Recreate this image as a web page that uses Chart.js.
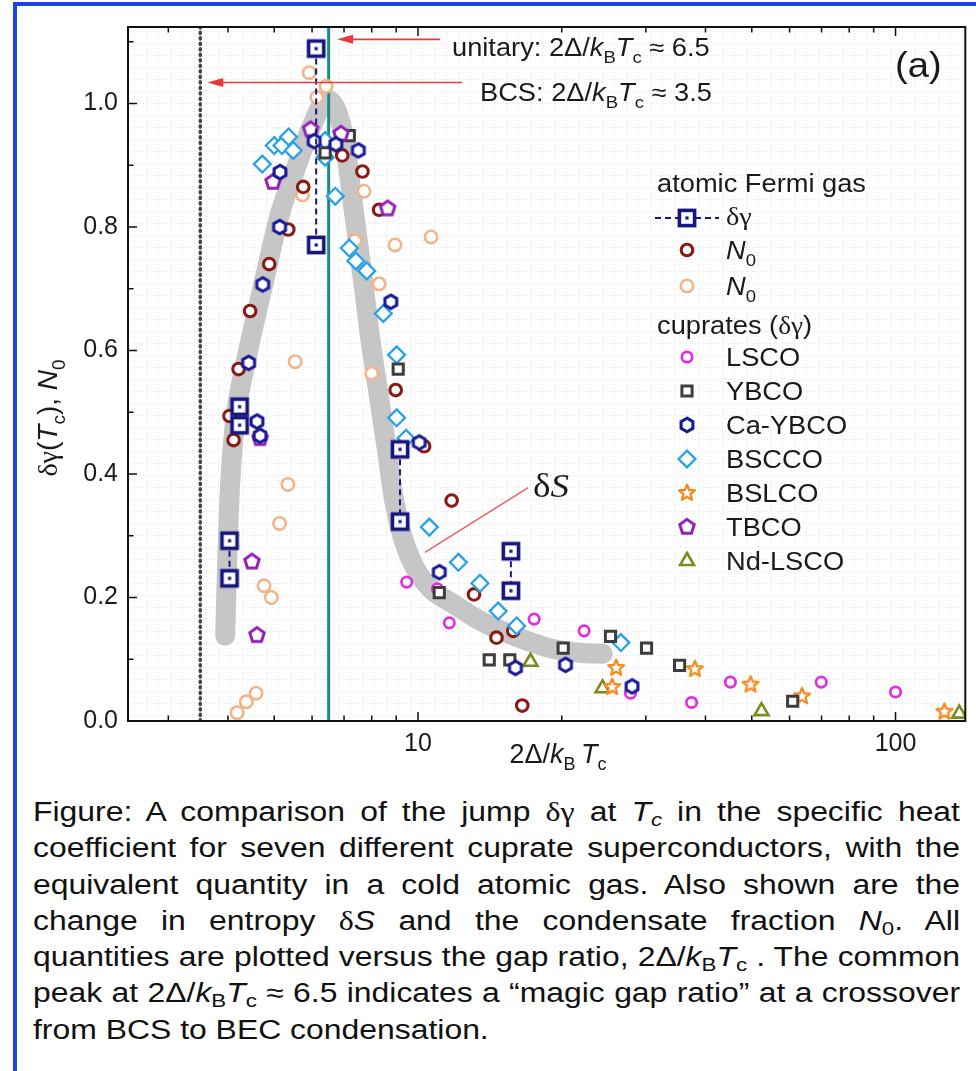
<!DOCTYPE html>
<html>
<head>
<meta charset="utf-8">
<script src="https://cdn.jsdelivr.net/npm/chart.js@4.4.0/dist/chart.umd.min.js"></script>
<style>
html,body{margin:0;padding:0;background:#fff;overflow:hidden}
#page{position:relative;width:976px;height:1071px;overflow:hidden;background:#fff}
#frame{position:absolute;left:13px;top:2px;width:1000px;height:1100px;border-left:4px solid #1a45e0;border-top:4px solid #1a45e0}
#c{position:absolute;left:0;top:0}
#cap{position:absolute;left:33px;top:794px;width:927px;font:27px "Liberation Sans",Arial,sans-serif;color:#111;line-height:36.3px;transform-origin:0 0}
#cap div{text-align:justify;text-align-last:justify;white-space:nowrap}
#cap div.last{text-align-last:left}
#cap.measure div{display:inline-block;text-align-last:left}
#cap.measure{width:auto}
sub{font-size:0.7em;line-height:0;vertical-align:-0.25em}
.g{font-family:"Liberation Serif",serif}
</style>
</head>
<body>
<div id="page">
  <div id="frame"></div>
  <canvas id="c" width="976" height="780"></canvas>
  <div id="cap">
    <div>Figure: A comparison of the jump <span class="g">δγ</span> at <i>T<sub>c</sub></i> in the specific heat</div>
    <div>coefficient for seven different cuprate superconductors, with the</div>
    <div>equivalent quantity in a cold atomic gas. Also shown are the</div>
    <div>change in entropy <span class="g">δ</span><i>S</i> and the condensate fraction <i>N</i><sub>0</sub>. All</div>
    <div>quantities are plotted versus the gap ratio, 2Δ/<i>k</i><sub>B</sub><i>T</i><sub>c</sub> . The common</div>
    <div>peak at 2Δ/<i>k</i><sub>B</sub><i>T</i><sub>c</sub> ≈ 6.5 indicates a “magic gap ratio” at a crossover</div>
    <div class="last">from BCS to BEC condensation.</div>
  </div>
</div>
<script>
// atomic Fermi gas, delta gamma (pairs joined by dashed line)
const dgX  = [6.12, 4.23, 4.03, 9.17, 15.65];
const dgHi = [1.089, 0.509, 0.292, 0.440, 0.275];
const dgLo = [0.771, 0.479, 0.231, 0.323, 0.211];

// atomic gas N0 (dark red)
const n0aX = [5.75, 6.94, 7.65, 8.29, 5.35, 4.88, 4.45, 4.21, 4.03, 4.11, 8.98, 10.3, 11.76, 13.1, 14.6, 15.83, 16.53];
const n0aY = [0.865, 0.916, 0.890, 0.828, 0.796, 0.740, 0.664, 0.570, 0.494, 0.455, 0.536, 0.445, 0.357, 0.205, 0.135, 0.146, 0.025];

// atomic gas N0 (light orange)
const n0bX = [5.92, 6.42, 6.14, 5.73, 7.71, 7.38, 8.95, 10.65, 8.29, 5.53, 8.0, 5.34, 5.13, 4.76, 4.93, 4.58, 4.37, 4.18];
const n0bY = [1.050, 1.028, 1.010, 0.852, 0.858, 0.778, 0.771, 0.784, 0.708, 0.582, 0.563, 0.383, 0.320, 0.219, 0.200, 0.045, 0.031, 0.0135];

// cuprates
const lscoX = [9.47, 10.98, 11.63, 17.51, 22.28, 27.86, 37.4, 45.1, 69.9, 100];
const lscoY = [0.225, 0.214, 0.159, 0.165, 0.146, 0.045, 0.030, 0.063, 0.063, 0.047];

const ybcoX = [7.18, 6.39, 9.09, 11.08, 14.1, 15.57, 20.14, 25.3, 30.1, 35.3, 60.9];
const ybcoY = [0.948, 0.920, 0.570, 0.208, 0.099, 0.099, 0.118, 0.137, 0.118, 0.090, 0.032];

const caX = [6.06, 6.73, 7.50, 5.14, 5.13, 4.73, 4.42, 4.60, 4.67, 8.77, 10.06, 11.08, 16.0, 20.37, 28.07];
const caY = [0.939, 0.934, 0.924, 0.889, 0.800, 0.707, 0.580, 0.485, 0.462, 0.679, 0.451, 0.241, 0.086, 0.091, 0.056];

const bsccoX = [4.72, 5.0, 5.19, 5.36, 5.48, 6.39, 6.39, 6.71, 7.18, 7.41, 7.81, 8.46, 9.02, 9.02, 9.44, 10.56, 12.15, 13.48, 14.72, 16.09, 26.6];
const bsccoY = [0.902, 0.932, 0.932, 0.946, 0.924, 0.913, 0.940, 0.850, 0.766, 0.745, 0.729, 0.660, 0.593, 0.491, 0.458, 0.314, 0.257, 0.223, 0.178, 0.154, 0.127];

const bslcoX = [26.0, 25.5, 38.0, 49.7, 63.7, 126.6];
const bslcoY = [0.086, 0.055, 0.084, 0.059, 0.040, 0.015];

const tbcoX = [5.96, 6.90, 4.97, 8.64, 4.67, 4.49, 4.60];
const tbcoY = [0.958, 0.951, 0.873, 0.830, 0.458, 0.258, 0.139];

const ndX = [17.2, 24.35, 52.4, 136];
const ndY = [0.096, 0.053, 0.016, 0.012];

// entropy change band
const dsX = [3.947, 3.985, 4.043, 4.142, 4.346, 4.739, 5.143, 5.53, 5.944, 6.45, 6.97, 7.31, 7.63, 7.94, 8.33, 8.61, 8.91, 9.26, 9.86, 10.70, 11.67, 13.68, 16.11, 18.89, 22.14, 24.38];
const dsY = [0.138, 0.261, 0.385, 0.487, 0.577, 0.706, 0.822, 0.892, 0.957, 1.006, 0.952, 0.836, 0.728, 0.621, 0.513, 0.439, 0.358, 0.301, 0.248, 0.212, 0.193, 0.160, 0.136, 0.118, 0.110, 0.109];

// reference lines / annotations
const bcsX = 3.5, unitaryX = 6.5;
const arrowY    = [1.104, 1.034];
const arrowFrom = [11.12, 12.36];
const arrowTo   = [6.77, 3.62];
const dsPointerX = [10.34, 17.01];
const dsPointerY = [0.273, 0.378];

const xTickVals = [3, 4, 5, 6, 7, 8, 9, 10, 20, 30, 40, 50, 60, 70, 80, 90, 100];

const SANS = '"Liberation Sans", Arial, sans-serif';
const SERIF = '"Liberation Serif", "Times New Roman", serif';
const NAVY = '#16167e', DRED = '#8a1a14', PEACH = '#f1b58c', MAG = '#e22ee2', GREY = '#3d3d3d',
      CAY = '#1a1a96', BLUE = '#27a2e8', ORANGE = '#f28a1e', PURPLE = '#9420b6', OLIVE = '#7d8a1c';
const HS = 1.09; // horizontal stretch of the picture's lettering

function marker(size, fn) {
  const c = document.createElement('canvas');
  c.width = c.height = size;
  fn(c.getContext('2d'), size / 2);
  return c;
}
function poly(g, c, n, r, rot) {
  g.beginPath();
  for (let k = 0; k < n; k++) {
    const a = rot + k * 2 * Math.PI / n;
    const px = c + r * Math.cos(a), py = c + r * Math.sin(a);
    k ? g.lineTo(px, py) : g.moveTo(px, py);
  }
  g.closePath();
}
const sqDg = marker(24, (g, c) => {
  g.fillStyle = '#fff'; g.strokeStyle = NAVY; g.lineWidth = 3.6;
  g.fillRect(c - 7.6, c - 7.6, 15.2, 15.2); g.strokeRect(c - 7.6, c - 7.6, 15.2, 15.2);
  g.fillStyle = NAVY; g.fillRect(c - 1.6, c - 1.6, 3.2, 3.2);
});
const hex = marker(20, (g, c) => {
  poly(g, c, 6, 6.8, -Math.PI / 2);
  g.fillStyle = '#fff'; g.fill(); g.strokeStyle = CAY; g.lineWidth = 3.1; g.stroke();
});
const pent = marker(22, (g, c) => {
  poly(g, c, 5, 7.6, -Math.PI / 2);
  g.fillStyle = '#fff'; g.fill(); g.strokeStyle = PURPLE; g.lineWidth = 3; g.stroke();
});
const star = marker(22, (g, c) => {
  g.beginPath();
  for (let k = 0; k < 10; k++) {
    const r = k % 2 ? 3.7 : 8.4, a = -Math.PI / 2 + k * Math.PI / 5;
    const px = c + r * Math.cos(a), py = c + r * Math.sin(a);
    k ? g.lineTo(px, py) : g.moveTo(px, py);
  }
  g.closePath();
  g.fillStyle = '#fff'; g.fill(); g.strokeStyle = ORANGE; g.lineWidth = 2.3; g.lineJoin = 'round'; g.stroke();
});

const pts = (xs, ys) => xs.map((x, i) => ({x, y: ys[i]}));

function sc(xs, ys, style, color, r, bw, order) {
  return {type: 'scatter', data: pts(xs, ys), pointStyle: style, pointRadius: r, pointHoverRadius: r,
    pointBorderWidth: bw, pointBorderColor: color, pointBackgroundColor: '#fff', showLine: false, order};
}
function ln(data, color, width, order, extra) {
  return Object.assign({type: 'line', data, borderColor: color, borderWidth: width, pointRadius: 0,
    pointHoverRadius: 0, fill: false, order, tension: 0}, extra || {});
}

const pairData = [];
dgX.forEach((x, i) => { pairData.push({x, y: dgHi[i]}, {x, y: dgLo[i]}, {x, y: null}); });

const yMax = 1.124;

const datasets = [
  sc(dgX.concat(dgX), dgHi.concat(dgLo), sqDg, NAVY, 10, 0, 0),
  ln(pairData, NAVY, 2, 1, {borderDash: [6, 4], spanGaps: false}),
  sc(caX, caY, hex, CAY, 8, 0, 2),
  sc(tbcoX, tbcoY, pent, PURPLE, 8, 0, 3),
  sc(ybcoX, ybcoY, 'rect', GREY, 7.2, 3, 4),
  sc(bsccoX, bsccoY, 'rectRot', BLUE, 8.4, 2.3, 5),
  sc(n0aX, n0aY, 'circle', DRED, 5.8, 3.1, 6),
  sc(lscoX, lscoY, 'circle', MAG, 5.2, 2.7, 7),
  sc(bslcoX, bslcoY, star, ORANGE, 8, 0, 8),
  sc(ndX, ndY, 'triangle', OLIVE, 8, 2.6, 9),
  sc(n0bX, n0bY, 'circle', PEACH, 6.2, 2.6, 10),
  ln(pts(dsPointerX, dsPointerY), '#e86060', 1.5, 11),
  ln([{x: unitaryX, y: 0}, {x: unitaryX, y: yMax}], '#1b8a83', 3, 12),
  ln([{x: bcsX, y: 0}, {x: bcsX, y: yMax}], '#454545', 3.5, 13, {borderDash: [1.2, 4.3], borderCapStyle: 'round'}),
  ln(pts(dsX, dsY), '#c6c6c6', 20, 14, {borderCapStyle: 'round', borderJoinStyle: 'round', cubicInterpolationMode: 'monotone'})
];

function rich(ctx, parts, x, y, size, align, hs) {
  hs = hs || 1;
  const sub = Math.round(size * 0.68);
  const fonts = {n: `${size}px ${SANS}`, i: `italic ${size}px ${SANS}`, s: `${size}px ${SERIF}`,
    si: `italic ${size}px ${SERIF}`, b: `${sub}px ${SANS}`};
  let w = 0;
  const segs = parts.map(([t, k]) => { ctx.font = fonts[k]; const m = ctx.measureText(t).width; w += m; return [t, k, m]; });
  const cx = align === 'center' ? x - w * hs / 2 : x;
  ctx.save();
  ctx.translate(cx, y); ctx.scale(hs, 1);
  ctx.textAlign = 'left'; ctx.textBaseline = 'alphabetic';
  let lx = 0;
  segs.forEach(([t, k, m]) => { ctx.font = fonts[k]; ctx.fillText(t, lx, k === 'b' ? size * 0.27 : 0); lx += m; });
  ctx.restore();
}

const kbtc = [['k', 'i'], ['B', 'b'], ['T', 'i'], ['c', 'b']];

const legend = [
  {y: 218, kind: 'dg'},
  {y: 250, style: 'circle', color: DRED, r: 5.8, bw: 3.1, text: [['N', 'i'], ['0', 'b']]},
  {y: 286, style: 'circle', color: PEACH, r: 6.2, bw: 2.6, text: [['N', 'i'], ['0', 'b']]},
  {y: 357, style: 'circle', color: MAG, r: 5.2, bw: 2.7, text: [['LSCO', 'n']]},
  {y: 391, style: 'rect', color: GREY, r: 7.2, bw: 3, text: [['YBCO', 'n']]},
  {y: 425, style: hex, text: [['Ca-YBCO', 'n']]},
  {y: 459, style: 'rectRot', color: BLUE, r: 8.4, bw: 2.3, text: [['BSCCO', 'n']]},
  {y: 493, style: star, text: [['BSLCO', 'n']]},
  {y: 527, style: pent, text: [['TBCO', 'n']]},
  {y: 561, style: 'triangle', color: OLIVE, r: 8, bw: 2.6, text: [['Nd-LSCO', 'n']]}
];

const deco = {
  id: 'deco',
  beforeDatasetsDraw(chart) {
    const {ctx, chartArea: a} = chart;
    ctx.save();
    ctx.fillStyle = 'rgba(170,185,205,0.34)';
    for (let x = a.left + 6; x < a.right; x += 12) for (let y = a.top; y < a.bottom; y += 3) ctx.fillRect(x, y, 1, 1);
    for (let y = a.bottom - 6; y > a.top; y -= 12) for (let x = a.left; x < a.right; x += 3) ctx.fillRect(x, y, 1, 1);
    ctx.restore();
  },
  afterDraw(chart) {
    const {ctx, chartArea: a} = chart;
    const xs = chart.scales.x, ys = chart.scales.y;
    ctx.save();
    // arrows
    ctx.strokeStyle = '#e83a3a'; ctx.fillStyle = '#e83a3a'; ctx.lineWidth = 1.6;
    arrowY.forEach((v, i) => {
      const py = ys.getPixelForValue(v), x0 = xs.getPixelForValue(arrowFrom[i]), x1 = xs.getPixelForValue(arrowTo[i]);
      ctx.beginPath(); ctx.moveTo(x0, py); ctx.lineTo(x1 + 10, py); ctx.stroke();
      ctx.beginPath(); ctx.moveTo(x1, py); ctx.lineTo(x1 + 16, py - 4.5); ctx.lineTo(x1 + 16, py + 4.5); ctx.closePath(); ctx.fill();
    });
    // frame and inward ticks
    ctx.strokeStyle = '#111'; ctx.lineWidth = 2;
    ctx.strokeRect(a.left, a.top, a.right - a.left, a.bottom - a.top);
    ctx.lineWidth = 1.5;
    ctx.beginPath();
    xTickVals.forEach(v => {
      const px = xs.getPixelForValue(v), L = (v === 10 || v === 100) ? 9 : 5.5;
      ctx.moveTo(px, a.bottom); ctx.lineTo(px, a.bottom - L);
      ctx.moveTo(px, a.top); ctx.lineTo(px, a.top + L);
    });
    for (let k = 1; k <= 11; k++) {
      const py = ys.getPixelForValue(k / 10), L = k % 2 ? 5.5 : 9;
      ctx.moveTo(a.left, py); ctx.lineTo(a.left + L, py);
    }
    ctx.stroke();
    // texts
    ctx.fillStyle = '#1a1a1a';
    rich(ctx, [['unitary: 2Δ/', 'n'], ...kbtc, [' ≈ 6.5', 'n']], 452, 56, 25, 'left', HS);
    rich(ctx, [['BCS: 2Δ/', 'n'], ...kbtc, [' ≈ 3.5', 'n']], 480, 101, 25, 'left', HS);
    rich(ctx, [['(a)', 'n']], 895, 77, 35, 'left', HS);
    rich(ctx, [['δ', 's'], ['S', 'si']], 533, 497, 34, 'left', HS);
    rich(ctx, [['2Δ/', 'n'], ['k', 'i'], ['B', 'b'], ['\u2009', 'n'], ['T', 'i'], ['c', 'b']], 558, 763, 27, 'center');
    ctx.save();
    ctx.translate(57, 418); ctx.rotate(-Math.PI / 2);
    rich(ctx, [['δγ', 's'], ['(', 'n'], ['T', 'i'], ['c', 'b'], ['), ', 'n'], ['N', 'i'], ['0', 'b']], 0, 0, 28, 'center');
    ctx.restore();
    // legend
    rich(ctx, [['atomic Fermi gas', 'n']], 657, 192, 25, 'left', HS);
    rich(ctx, [['cuprates (', 'n'], ['δγ', 's'], [')', 'n']], 657, 334, 25, 'left', HS);
    const mx = 687;
    legend.forEach(it => {
      if (it.kind === 'dg') {
        ctx.save(); ctx.strokeStyle = NAVY; ctx.lineWidth = 2; ctx.setLineDash([6, 4]);
        ctx.beginPath(); ctx.moveTo(655, it.y); ctx.lineTo(719, it.y); ctx.stroke(); ctx.restore();
        ctx.drawImage(sqDg, mx - 12, it.y - 12);
        ctx.fillStyle = '#1a1a1a';
        rich(ctx, [['δγ', 's']], 726, it.y + 7, 26, 'left', HS);
        return;
      }
      if (typeof it.style !== 'string') {
        ctx.drawImage(it.style, mx - it.style.width / 2, it.y - it.style.height / 2);
      } else {
        ctx.fillStyle = '#fff'; ctx.strokeStyle = it.color; ctx.lineWidth = it.bw;
        Chart.helpers.drawPoint(ctx, {pointStyle: it.style, radius: it.r, rotation: 0, borderWidth: it.bw}, mx, it.y);
      }
      ctx.fillStyle = '#1a1a1a';
      rich(ctx, it.text, 726, it.y + 9, 25, 'left', HS);
    });
    ctx.restore();
  }
};

new Chart(document.getElementById('c'), {
  type: 'scatter',
  data: {datasets},
  options: {
    responsive: false, devicePixelRatio: 1, animation: false,
    layout: {padding: {top: 27, right: 10, left: 0, bottom: 0}},
    plugins: {legend: {display: false}, tooltip: {enabled: false}},
    scales: {
      x: {
        type: 'logarithmic', min: 2.47, max: 140, position: 'bottom',
        grid: {display: false, drawTicks: false}, border: {display: false},
        afterFit: s => { s.height = 59; },
        ticks: {autoSkip: false, maxRotation: 0, padding: 8, color: '#1a1a1a', font: {family: SANS, size: 25},
          callback: v => (Math.abs(v - 10) < 1e-6 || Math.abs(v - 100) < 1e-6) ? String(v) : ''}
      },
      y: {
        type: 'linear', min: 0, max: yMax,
        grid: {display: false, drawTicks: false}, border: {display: false},
        afterFit: s => { s.width = 128; },
        ticks: {stepSize: 0.1, includeBounds: false, padding: 10, color: '#1a1a1a', font: {family: SANS, size: 25},
          callback: v => Math.round(v * 10) % 2 === 0 ? v.toFixed(1) : ''}
      }
    }
  },
  plugins: [deco]
});

// caption: the picture's caption is stretched sideways; fit its widest line to the column
const cap = document.getElementById('cap');
cap.classList.add('measure');
let widest = 0;
cap.querySelectorAll('div').forEach(d => { widest = Math.max(widest, d.getBoundingClientRect().width); });
cap.classList.remove('measure');
const capW = 927;
const sx = capW / (widest + 2);
cap.style.width = (capW / sx) + 'px';
cap.style.transform = `scaleX(${sx})`;
</script>
</body>
</html>
